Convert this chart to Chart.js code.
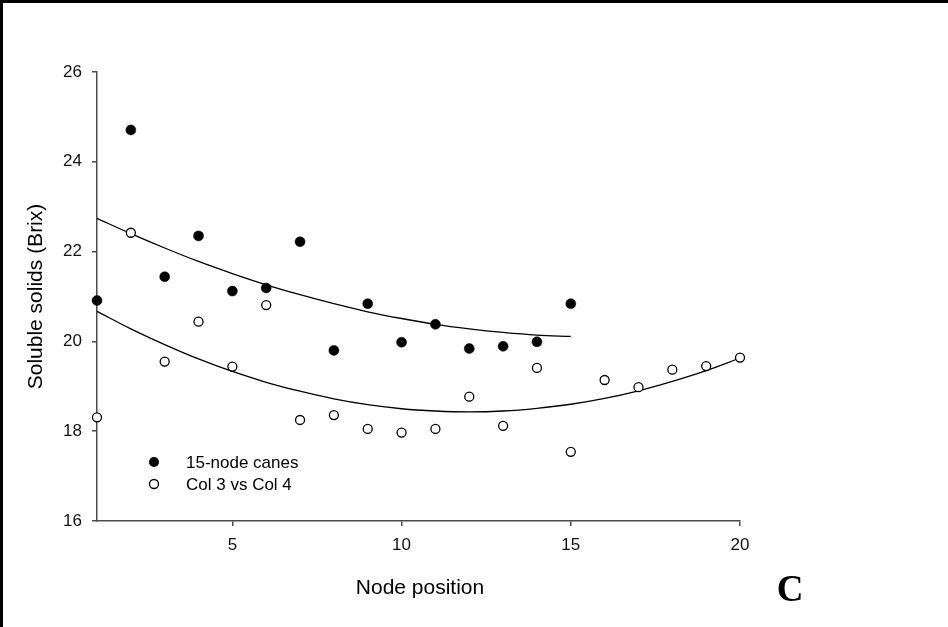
<!DOCTYPE html>
<html>
<head>
<meta charset="utf-8">
<script src="https://cdn.jsdelivr.net/npm/chart.js@4/dist/chart.umd.min.js"></script>
<style>
  html, body { margin: 0; padding: 0; background: #fff; }
  #wrap { width: 948px; height: 627px; position: relative; }
</style>
</head>
<body>
<div id="wrap"><canvas id="brixChart" width="948" height="627"></canvas></div>
<script>
// node positions
const nodes15 = [1, 2, 3, 4, 5, 6, 7, 8, 9, 10, 11, 12, 13, 14, 15];
const nodes20 = [1, 2, 3, 4, 5, 6, 7, 8, 9, 10, 11, 12, 13, 14, 15, 16, 17, 18, 19, 20];

// soluble solids
const canes15 = [20.91, 24.71, 21.44, 22.35, 21.12, 21.19, 22.22, 19.80, 20.84, 19.98, 20.38, 19.84, 19.89, 19.99, 20.84];
const col3vs4 = [18.31, 22.42, 19.55, 20.44, 19.44, 20.81, 18.25, 18.36, 18.05, 17.97, 18.05, 18.77, 18.12, 19.41, 17.54, 19.14, 18.98, 19.37, 19.45, 19.64];

// fitted curves, read at each node
const fitCanes15 = [22.74, 22.40, 22.08, 21.78, 21.51, 21.26, 21.04, 20.84, 20.66, 20.51, 20.38, 20.28, 20.20, 20.14, 20.11];
const fitCol3vs4 = [20.67, 20.28, 19.93, 19.61, 19.33, 19.09, 18.89, 18.72, 18.59, 18.50, 18.45, 18.43, 18.45, 18.51, 18.60, 18.73, 18.90, 19.11, 19.35, 19.63];

const xTicks = [5, 10, 15, 20];
const yTicks = [16, 18, 20, 22, 24, 26];

const legendLabels = ["15-node canes", "Col 3 vs Col 4"];
const xTitle = "Node position";
const yTitle = "Soluble solids (Brix)";
const panelLetter = "C";

const pts = (xs, ys) => xs.map((x, i) => ({ x: x, y: ys[i] }));

const axisColor = "#4a4a4a";
const font = "Arial, 'Liberation Sans', sans-serif";

const extras = {
  id: "extras",
  afterDraw(chart) {
    const ctx = chart.ctx;
    const area = chart.chartArea;
    ctx.save();
    // outer frame (left + top)
    ctx.fillStyle = "#000";
    ctx.fillRect(0, 0, 3, 627);
    ctx.fillRect(0, 0, 948, 3);

    // axis titles
    ctx.fillStyle = "#000";
    ctx.font = "21px " + font;
    ctx.textAlign = "center";
    ctx.textBaseline = "middle";
    ctx.fillText(xTitle, 420, 588);
    ctx.save();
    ctx.translate(36, (area.top + area.bottom) / 2);
    ctx.rotate(-Math.PI / 2);
    ctx.fillText(yTitle, 0, 0);
    ctx.restore();

    // legend
    ctx.font = "17px " + font;
    ctx.textAlign = "left";
    ctx.beginPath();
    ctx.arc(154, 462, 5, 0, Math.PI * 2);
    ctx.fill();
    ctx.beginPath();
    ctx.arc(154, 484, 4.5, 0, Math.PI * 2);
    ctx.fillStyle = "#fff";
    ctx.fill();
    ctx.lineWidth = 1.3;
    ctx.strokeStyle = "#000";
    ctx.stroke();
    ctx.fillStyle = "#000";
    ctx.fillText(legendLabels[0], 186, 463);
    ctx.fillText(legendLabels[1], 186, 485);

    // panel letter
    ctx.font = "bold 37px 'Liberation Serif', 'Times New Roman', serif";
    ctx.textAlign = "center";
    ctx.fillText(panelLetter, 790, 591);
    ctx.restore();
  }
};

new Chart(document.getElementById("brixChart").getContext("2d"), {
  type: "scatter",
  data: {
    datasets: [
      {
        label: "fit 15-node",
        data: pts(nodes15, fitCanes15),
        showLine: true,
        borderColor: "#000",
        borderWidth: 1.3,
        pointRadius: 0,
        cubicInterpolationMode: "monotone",
        fill: false,
        order: 2,
      },
      {
        label: "fit col",
        data: pts(nodes20, fitCol3vs4),
        showLine: true,
        borderColor: "#000",
        borderWidth: 1.3,
        pointRadius: 0,
        cubicInterpolationMode: "monotone",
        fill: false,
        order: 2,
      },
      {
        label: legendLabels[0],
        data: pts(nodes15, canes15),
        pointRadius: 5,
        pointBackgroundColor: "#000",
        pointBorderColor: "#000",
        pointBorderWidth: 0.5,
        order: 1,
      },
      {
        label: legendLabels[1],
        data: pts(nodes20, col3vs4),
        pointRadius: 4.5,
        pointBackgroundColor: "#fff",
        pointBorderColor: "#000",
        pointBorderWidth: 1.3,
        order: 1,
      },
    ],
  },
  options: {
    responsive: false,
    animation: false,
    clip: false,
    layout: { padding: { left: 0, right: 208, top: 72, bottom: 0 } },
    plugins: {
      legend: { display: false },
      tooltip: { enabled: false },
    },
    scales: {
      x: {
        type: "linear",
        min: 1,
        max: 20,
        afterBuildTicks: (axis) => { axis.ticks = xTicks.map((v) => ({ value: v })); },
        afterFit: (axis) => { axis.height = 106; },
        ticks: { color: "#111", font: { family: font, size: 17 }, padding: 9, maxRotation: 0 },
        grid: { display: true, drawOnChartArea: false, drawTicks: true, tickLength: 5, color: axisColor, lineWidth: 1.5 },
        border: { display: true, color: axisColor, width: 1.5 },
      },
      y: {
        min: 16,
        max: 26,
        afterBuildTicks: (axis) => { axis.ticks = yTicks.map((v) => ({ value: v })); },
        afterFit: (axis) => { axis.width = 97; },
        ticks: { color: "#111", font: { family: font, size: 17 }, padding: 10 },
        grid: { display: true, drawOnChartArea: false, drawTicks: true, tickLength: 5, color: axisColor, lineWidth: 1.5 },
        border: { display: true, color: axisColor, width: 1.5 },
      },
    },
  },
  plugins: [extras],
});
</script>
</body>
</html>
